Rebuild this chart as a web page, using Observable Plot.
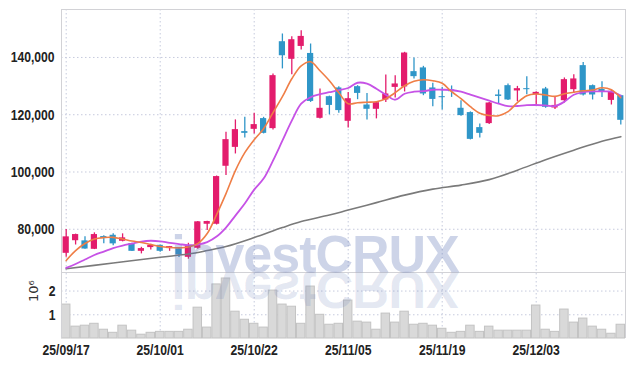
<!DOCTYPE html>
<html><head><meta charset="utf-8">
<script src="https://cdn.jsdelivr.net/npm/d3@7"></script>
<script src="https://cdn.jsdelivr.net/npm/@observablehq/plot@0.6"></script>
<style>
html,body{margin:0;padding:0;background:#fff;}
#chart{position:relative;width:634px;height:366px;overflow:hidden;background:#fff;}
#chart svg{position:absolute;left:0;}
.wm{position:absolute;left:0;width:630px;text-align:center;font-family:'Liberation Sans',Arial,sans-serif;font-weight:bold;font-size:52px;line-height:52px;letter-spacing:-1px;pointer-events:none;white-space:nowrap;}
</style></head><body><div id="chart"></div>
<script>
const dates = ["25/09/17","25/09/18","25/09/19","25/09/22","25/09/23","25/09/24","25/09/25","25/09/26","25/09/29","25/09/30",
"25/10/01","25/10/02","25/10/10","25/10/13","25/10/14","25/10/15","25/10/16","25/10/17","25/10/20","25/10/21",
"25/10/22","25/10/23","25/10/24","25/10/27","25/10/28","25/10/29","25/10/30","25/10/31","25/11/03","25/11/04",
"25/11/05","25/11/06","25/11/07","25/11/10","25/11/11","25/11/12","25/11/13","25/11/14","25/11/17","25/11/18",
"25/11/19","25/11/20","25/11/21","25/11/24","25/11/25","25/11/26","25/11/27","25/11/28","25/12/01","25/12/02",
"25/12/03","25/12/04","25/12/05","25/12/08","25/12/09","25/12/10","25/12/11","25/12/12","25/12/15","25/12/16"];
const open  = [71600,76000,75950,73000,77450,77900,75800,75000,72300,73600,74400,73250,73150,70200,73350,81750,81750,102000,108600,114100,114900,118650,115150,145500,139350,143850,141400,118750,126300,129350,117700,129800,123400,121900,125150,129550,129700,135050,136350,129350,126300,128650,122250,120750,115500,116900,126900,130150,128300,129100,127100,129000,122350,124900,128750,137150,130150,128850,125000,126650];
const high  = [79900,78300,77350,78750,77700,78400,78400,75100,73700,74750,74500,74000,73300,75100,82700,82800,98600,113850,118200,119100,120500,119100,134250,148200,147250,149350,144700,129000,126500,129800,127800,130150,127450,124300,133900,133650,141800,139800,136900,130950,129550,130050,124900,121000,116800,124300,128650,130750,129900,133300,128000,129550,126050,132850,134000,138200,130400,131550,128750,126800];
const low   = [70200,74500,73000,72900,74900,74200,75600,72200,71400,72800,71950,72300,70150,69550,73000,79550,81500,98750,106300,111900,113300,113300,114700,136000,134000,142600,124300,118500,119950,120500,115400,125250,118200,118550,124300,125850,127950,132500,126650,122800,121650,126050,119500,111200,111900,116600,123600,125000,124550,127000,123400,122250,121800,124100,127450,126500,125150,126050,123400,116450];
const close = [77350,78150,73100,78150,76750,74900,77000,72300,73250,74400,72300,73950,71050,73950,82600,82700,98400,111300,114800,113500,116550,113500,133650,140600,146200,147350,124650,122250,123250,121450,125600,127450,121900,124200,127250,130750,141550,133300,127250,125350,125950,128050,119700,111400,113500,124100,126400,125150,129100,128750,127800,122600,123250,132250,132500,126900,126900,128050,128150,118050];
const volume = [1430000,500000,540000,620000,370000,240000,540000,330000,160000,240000,280000,280000,280000,370000,1300000,460000,2280000,2530000,1130000,790000,620000,460000,2020000,1430000,1340000,620000,2190000,1000000,580000,620000,1600000,710000,670000,370000,1050000,670000,1130000,580000,620000,540000,410000,240000,280000,540000,280000,500000,330000,330000,330000,330000,1390000,370000,280000,1220000,670000,840000,500000,370000,200000,580000];
const ma5 = [69080,72570,75010,76580,77100,77170,76580,75880,75360,74660,73970,73620,73510,73790,75010,78500,85130,92450,100480,106760,111290,115130,120710,126290,132570,137100,138500,135360,131870,127690,123850,124200,124370,124550,125590,127690,130130,131700,132220,131870,131000,128040,125590,122800,120540,119730,119660,121060,124200,126640,127230,126880,126400,127340,127860,128380,128630,129430,128730,125940];
const ma20 = [66530,67860,69430,71000,72220,73440,74310,75010,75710,75990,75780,75260,74840,74420,74660,75530,77450,80590,84780,88970,93850,97690,103970,110940,117920,123850,126120,127160,127860,128560,129330,131170,130830,129080,126990,125240,127340,128040,128210,128730,128730,128630,128040,126990,125940,124900,123850,122980,123050,123330,123400,123260,123050,124550,126990,127860,128140,128140,128040,126640];
const ma120Dates = ["25/09/17","25/09/24","25/10/01","25/10/13","25/10/15","25/10/17","25/10/22","25/10/27","25/10/29","25/11/03","25/11/05","25/11/10","25/11/13","25/11/18","25/11/21","25/11/26","25/12/01","25/12/04","25/12/09","25/12/12","25/12/16"];
const ma120 = [66190,68210,70230,71350,72570,73970,77100,80590,82690,84950,86700,89310,91930,94020,95420,97340,100650,104310,107630,110770,112340];
const priceTicks = [80000,100000,120000,140000];
const volumeTicks = [1000000,2000000];
const dateTicks = ["25/09/17","25/10/01","25/10/22","25/11/05","25/11/19","25/12/03"];

const UP = "#e31c6c", DOWN = "#2f96c8", GRID = "#c6cadd", FRAME = "#d2d2d6";
const rows = dates.map((d, i) => ({i, o: open[i], h: high[i], l: low[i], c: close[i], v: volume[i], col: close[i] >= open[i] ? UP : DOWN}));
const tickIdx = dateTicks.map(d => dates.indexOf(d));
const xDomain = [-0.5, dates.length - 0.5];
const ma5Rows = ma5.map((v, i) => ({i, v}));
const ma20Rows = ma20.map((v, i) => ({i, v}));
const ma120Rows = ma120Dates.map((d, k) => ({i: dates.indexOf(d), v: ma120[k]}));
const font = "'Liberation Sans',Arial,sans-serif";
const baseStyle = {fontFamily: font, fontSize: "15px", fontWeight: "bold", color: "#222", background: "transparent"};

function narrow(svg) {
  svg.querySelectorAll('g[aria-label^="y-axis"] text, g[aria-label^="x-axis"] text').forEach(t => {
    const tr = t.getAttribute("transform");
    t.setAttribute("transform", (tr ? tr + " " : "") + "scale(0.81,1)");
  });
}

const price = Plot.plot({
  width: 634, height: 273,
  marginTop: 9, marginBottom: 1, marginLeft: 61, marginRight: 9,
  style: baseStyle,
  x: {type: "linear", domain: xDomain, axis: null},
  y: {domain: [64900, 156750], ticks: priceTicks, tickFormat: d3.format(","), tickSize: 0, tickPadding: 7, label: null},
  marks: [
    Plot.ruleY(priceTicks, {stroke: GRID, strokeDasharray: "1.5,2.5"}),
    Plot.ruleX(tickIdx, {stroke: GRID, strokeDasharray: "1.5,2.5"}),
    Plot.frame({stroke: FRAME}),
    Plot.ruleX(rows, {x: "i", y1: "l", y2: "h", stroke: "col", strokeWidth: 1.3}),
    Plot.rect(rows, {x1: d => d.i - 0.33, x2: d => d.i + 0.33, y1: "o", y2: "c", fill: "col"}),
    Plot.line(ma120Rows, {x: "i", y: "v", stroke: "#7a7a7a", strokeWidth: 1.6, curve: "catmull-rom"}),
    Plot.line(ma20Rows, {x: "i", y: "v", stroke: "#c652e6", strokeWidth: 1.8, curve: "catmull-rom"}),
    Plot.line(ma5Rows, {x: "i", y: "v", stroke: "#ef7e46", strokeWidth: 1.6, curve: "catmull-rom"})
  ]
});
price.style.top = "0px";
narrow(price);

const vol = Plot.plot({
  width: 634, height: 93,
  marginTop: 0, marginBottom: 28, marginLeft: 61, marginRight: 9,
  style: baseStyle,
  x: {type: "linear", domain: xDomain, ticks: tickIdx, tickFormat: i => dates[i], tickSize: 0, tickPadding: 6, label: null},
  y: {domain: [0, 2740000], ticks: volumeTicks, tickFormat: d => d / 1e6, tickSize: 0, tickPadding: 6, label: null},
  marks: [
    Plot.ruleY(volumeTicks, {stroke: GRID, strokeDasharray: "1.5,2.5"}),
    Plot.ruleX(tickIdx, {stroke: GRID, strokeDasharray: "1.5,2.5"}),
    Plot.rectY(rows, {x1: d => d.i - 0.45, x2: d => d.i + 0.45, y1: 0, y2: "v", fill: "#d9d9d9", stroke: "#c3c3c3", strokeWidth: 1}),
    Plot.ruleX(xDomain, {stroke: FRAME}),
    Plot.text(["10⁶"], {frameAnchor: "left", dx: -28, dy: -4, rotate: -90, fontFamily: "DejaVu Sans", fontWeight: "normal", fontSize: 13, fill: "#333"})
  ]
});
vol.style.top = "273px";
narrow(vol);

const chart = document.getElementById("chart");
chart.appendChild(price);
chart.appendChild(vol);

const wm = document.createElement("div");
wm.className = "wm";
wm.textContent = "investCRUX";
wm.style.top = "228px";
wm.style.color = "rgba(88,112,178,0.30)";
chart.appendChild(wm);

const wr = document.createElement("div");
wr.className = "wm";
wr.textContent = "investCRUX";
wr.style.top = "264px";
wr.style.transform = "scaleY(-1)";
wr.style.color = "rgba(88,112,178,0.16)";
chart.appendChild(wr);
</script>
</body></html>
